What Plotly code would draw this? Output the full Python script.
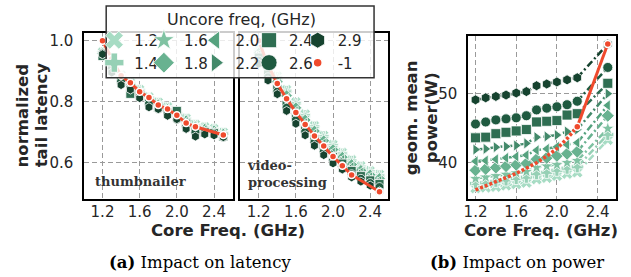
import plotly.graph_objects as go

# ---------------- data ----------------
core_freq = [1.2, 1.3, 1.4, 1.5, 1.6, 1.7, 1.8, 1.9, 2.0, 2.1, 2.2, 2.3, 2.4, 2.5]
core_freq_auto = [1.2, 1.3, 1.4, 1.5, 1.6, 1.7, 1.8, 1.9, 2.0, 2.1, 2.2, 2.5]
core_freq_power = [1.2, 1.3, 1.4, 1.5, 1.6, 1.7, 1.8, 1.9, 2.0, 2.1, 2.2, 2.5]
uncore_labels = ["1.2", "1.4", "1.6", "1.8", "2.0", "2.2", "2.4", "2.6", "2.9"]
auto_label = "-1"

# normalized tail latency, thumbnailer (rows follow uncore_labels)
thumb_latency = [
    [.964, .930, .888, .863, .840, .816, .799, .784, .766, .746, .726, .718, .712, .700],
    [.962, .927, .885, .860, .838, .813, .796, .781, .763, .743, .723, .715, .710, .698],
    [.960, .925, .883, .857, .835, .810, .793, .778, .760, .740, .720, .712, .707, .696],
    [.958, .922, .880, .855, .832, .808, .790, .775, .758, .738, .718, .710, .705, .694],
    [.957, .920, .878, .852, .830, .806, .788, .772, .755, .735, .715, .708, .703, .692],
    [.955, .918, .876, .850, .828, .803, .785, .770, .752, .732, .712, .705, .700, .690],
    [.950, .915, .872, .826, .825, .798, .781, .765, .770, .728, .706, .700, .697, .686],
    [.958, .910, .866, .846, .818, .792, .776, .760, .742, .720, .700, .698, .694, .683],
    [.956, .896, .855, .840, .812, .782, .776, .754, .743, .711, .686, .693, .690, .684],
]
thumb_latency_auto = [1.0, .940, .885, .862, .833, .814, .789, .776, .756, .730, .718, .691]

# normalized tail latency, video-processing
video_latency = [
    [.975, .930, .885, .840, .800, .760, .722, .690, .660, .634, .610, .590, .574, .562],
    [.970, .925, .880, .835, .795, .755, .718, .686, .656, .630, .606, .586, .570, .558],
    [.965, .920, .874, .829, .789, .749, .712, .680, .650, .625, .600, .581, .565, .553],
    [.960, .912, .866, .820, .780, .740, .704, .672, .643, .618, .594, .575, .560, .548],
    [.955, .905, .858, .810, .770, .731, .695, .664, .635, .611, .587, .569, .554, .542],
    [.950, .898, .850, .800, .760, .722, .687, .656, .627, .604, .580, .563, .548, .536],
    [.945, .890, .842, .790, .750, .712, .678, .647, .619, .597, .573, .556, .542, .530],
    [.935, .880, .833, .780, .740, .701, .667, .636, .608, .588, .562, .547, .533, .520],
    [.925, .870, .825, .770, .728, .690, .656, .625, .598, .578, .552, .538, .525, .506],
]
video_latency_auto = [1.0, .920, .860, .810, .765, .725, .688, .655, .620, .590, .560, .505]

# geometric-mean power (W)
power = [
    [36.3, 36.4, 36.5, 36.7, 36.9, 37.1, 37.6, 37.8, 38.1, 38.4, 38.6, 43.3],
    [37.0, 37.1, 37.3, 37.5, 37.7, 37.9, 38.4, 38.6, 38.9, 39.2, 39.4, 44.1],
    [37.7, 37.9, 38.1, 38.3, 38.5, 38.7, 39.3, 39.5, 39.7, 40.0, 40.3, 44.95],
    [38.9, 39.1, 39.3, 39.5, 39.7, 39.9, 40.5, 40.7, 41.0, 41.3, 41.6, 46.8],
    [40.2, 40.3, 40.5, 40.7, 40.9, 41.1, 41.8, 42.0, 42.3, 42.6, 42.9, 48.3],
    [41.9, 42.0, 42.25, 42.35, 42.5, 42.8, 43.7, 43.8, 44.0, 44.5, 44.8, 50.0],
    [43.6, 43.7, 44.2, 44.4, 44.6, 44.8, 45.9, 46.0, 46.1, 46.9, 47.1, 51.5],
    [45.6, 45.9, 46.2, 46.35, 46.5, 46.8, 47.65, 47.9, 48.1, 48.4, 48.9, 53.8],
    [49.1, 49.4, 49.6, 49.8, 50.1, 50.3, 51.15, 51.4, 51.7, 52.0, 52.3, 57.2],
]
power_auto = [36.05, 36.7, 37.25, 37.85, 38.45, 39.2, 40.0, 40.95, 42.05, 43.5, 45.2, 57.2]

x_ticks = [1.2, 1.6, 2.0, 2.4]
latency_ticks = [0.6, 0.8, 1.0]
power_ticks = [40, 50]

# ---------------- styles ----------------
W, H = 631, 277
colors = ["#a7dcc4", "#96d0b5", "#7fc2a2", "#68b290", "#55a27e", "#43896a",
          "#2f6e52", "#1f5a40", "#16432f"]
symbols = ["x", "cross", "star", "diamond", "triangle-left", "triangle-right",
           "square", "circle", "hexagon"]
legend_sizes = [16, 16, 16, 16, 16, 16, 15, 16, 16]
red = "#ef4a2d"
txt = "#262626"


def px(v):
    return v / W


def py(v):
    return 1 - v / H


fig = go.Figure()

for i, lab in enumerate(uncore_labels):
    mk = dict(symbol=symbols[i], size=9, color=colors[i], line=dict(color="white", width=0.8))
    fig.add_trace(go.Scatter(x=core_freq, y=thumb_latency[i], mode="markers", marker=mk,
                             name=lab, showlegend=False, xaxis="x", yaxis="y"))
    fig.add_trace(go.Scatter(x=core_freq, y=video_latency[i], mode="markers", marker=mk,
                             name=lab, showlegend=False, xaxis="x2", yaxis="y2"))
    fig.add_trace(go.Scatter(x=core_freq_power, y=power[i], mode="lines+markers",
                             marker=dict(mk, size=10),
                             line=dict(color=colors[i], width=2.5, dash="7px,3px,2px,3px"),
                             name=lab, showlegend=False, xaxis="x3", yaxis="y3"))

auto_mk = dict(symbol="circle", size=7, color=red, line=dict(color="white", width=1.5))
fig.add_trace(go.Scatter(x=core_freq_auto, y=thumb_latency_auto, mode="lines+markers",
                         line=dict(color=red, width=3), marker=auto_mk, name=auto_label,
                         showlegend=False, xaxis="x", yaxis="y"))
fig.add_trace(go.Scatter(x=core_freq_auto, y=video_latency_auto, mode="lines+markers",
                         line=dict(color=red, width=3), marker=auto_mk, name=auto_label,
                         showlegend=False, xaxis="x2", yaxis="y2"))
fig.add_trace(go.Scatter(x=core_freq_power[:-1], y=power_auto[:-1], mode="lines",
                         line=dict(color=red, width=3.5, dash="3px,2px"), name=auto_label,
                         showlegend=False, xaxis="x3", yaxis="y3"))
fig.add_trace(go.Scatter(x=core_freq_power[-2:], y=power_auto[-2:], mode="lines+markers",
                         line=dict(color=red, width=3), marker=auto_mk, name=auto_label,
                         showlegend=False, xaxis="x3", yaxis="y3"))

# legend entries (five columns of two)
legend_names = ["legend", "legend2", "legend3", "legend4", "legend5"]
for i, lab in enumerate(uncore_labels + [auto_label]):
    if i < len(uncore_labels):
        mk = dict(symbol=symbols[i], size=legend_sizes[i], color=colors[i],
                  line=dict(color="white", width=0.8))
    else:
        mk = dict(symbol="circle", size=9, color=red, line=dict(color="white", width=1.5))
    fig.add_trace(go.Scatter(x=[None], y=[None], mode="markers", marker=mk, name=lab,
                             legend=legend_names[i // 2], xaxis="x", yaxis="y"))

axis_common = dict(showline=True, linecolor="black", linewidth=2, mirror=True,
                   showgrid=True, gridcolor="#9a9a9a", gridwidth=1.3, griddash="5px,3px",
                   zeroline=False, tickcolor="rgba(0,0,0,0)",
                   tickfont=dict(family="DejaVu Sans", size=15, color=txt))
x_common = dict(axis_common, ticks="", ticklabelstandoff=-2)
y_common = dict(axis_common, ticks="outside", ticklen=6)

lat_dom = [py(199), py(32)]
fig.update_layout(
    width=W, height=H, margin=dict(l=0, r=0, t=0, b=0),
    paper_bgcolor="white", plot_bgcolor="white",
    xaxis=dict(domain=[px(80), px(230)], range=[1.005, 2.606], anchor="y",
               tickvals=x_ticks, tickformat=".1f", **x_common),
    yaxis=dict(domain=lat_dom, range=[0.48, 1.026], anchor="x",
               tickvals=latency_ticks, tickformat=".1f", **y_common),
    xaxis2=dict(domain=[px(237), px(386)], range=[1.0, 2.591], anchor="y2",
                tickvals=x_ticks, tickformat=".1f", **x_common),
    yaxis2=dict(domain=lat_dom, range=[0.48, 1.026], anchor="x2", matches="y",
                tickvals=latency_ticks, showticklabels=False, **y_common),
    xaxis3=dict(domain=[px(467), px(616)], range=[1.129, 2.582], anchor="y3",
                tickvals=x_ticks, tickformat=".1f", **x_common),
    yaxis3=dict(domain=[py(199), py(35)], range=[34.7, 58.37], anchor="x3",
                tickvals=power_ticks, **y_common),
    showlegend=True,
)

col_origin = [90, 140, 192, 246, 295]
for name, xo in zip(legend_names, col_origin):
    fig.update_layout({name: dict(x=px(xo), y=py(23), xanchor="left", yanchor="top",
                                  orientation="v", bgcolor="rgba(0,0,0,0)", borderwidth=0,
                                  itemwidth=30, tracegroupgap=0,
                                  font=dict(family="DejaVu Sans", size=15, color=txt))})

fig.add_shape(type="rect", xref="paper", yref="paper", x0=px(102), x1=px(372),
              y0=py(77), y1=py(5), fillcolor="rgba(255,255,255,0.8)",
              line=dict(color="#333333", width=1.5), layer="above")

sans_b = dict(family="DejaVu Sans", size=16.5, color=txt, weight="bold")
ann = [
    dict(text="Uncore freq, (GHz)", x=px(238), y=py(19),
         font=dict(family="DejaVu Sans", size=16, color=txt)),
    dict(text="Core Freq. (GHz)", x=px(225), y=py(230), font=sans_b),
    dict(text="Core Freq. (GHz)", x=px(540), y=py(230), font=sans_b),
    dict(text="normalized", x=px(18), y=py(115), textangle=-90, font=sans_b),
    dict(text="tail latency", x=px(37), y=py(115), textangle=-90, font=sans_b),
    dict(text="geom. mean", x=px(410), y=py(117), textangle=-90, font=sans_b),
    dict(text="power(W)", x=px(430), y=py(117), textangle=-90, font=sans_b),
    dict(text="thumbnailer", x=px(136.5), y=py(181),
         font=dict(family="DejaVu Serif", size=13, color="#333333", weight="bold")),
    dict(text="video-<br>processing", x=px(242), y=py(174), xanchor="left", align="left",
         font=dict(family="DejaVu Serif", size=13, color="#333333", weight="bold")),
    dict(text="<b>(a)</b> Impact on latency", x=px(196.5), y=py(262),
         font=dict(family="DejaVu Serif", size=16.5, color="black")),
    dict(text="<b>(b)</b> Impact on power", x=px(516), y=py(262),
         font=dict(family="DejaVu Serif", size=16.5, color="black")),
]
for a in ann:
    a.setdefault("xanchor", "center")
    fig.add_annotation(xref="paper", yref="paper", showarrow=False, yanchor="middle", **a)

fig.write_html("out.html", config={"displayModeBar": False},
               post_script="document.body.style.margin='0';document.body.style.padding='0';")
